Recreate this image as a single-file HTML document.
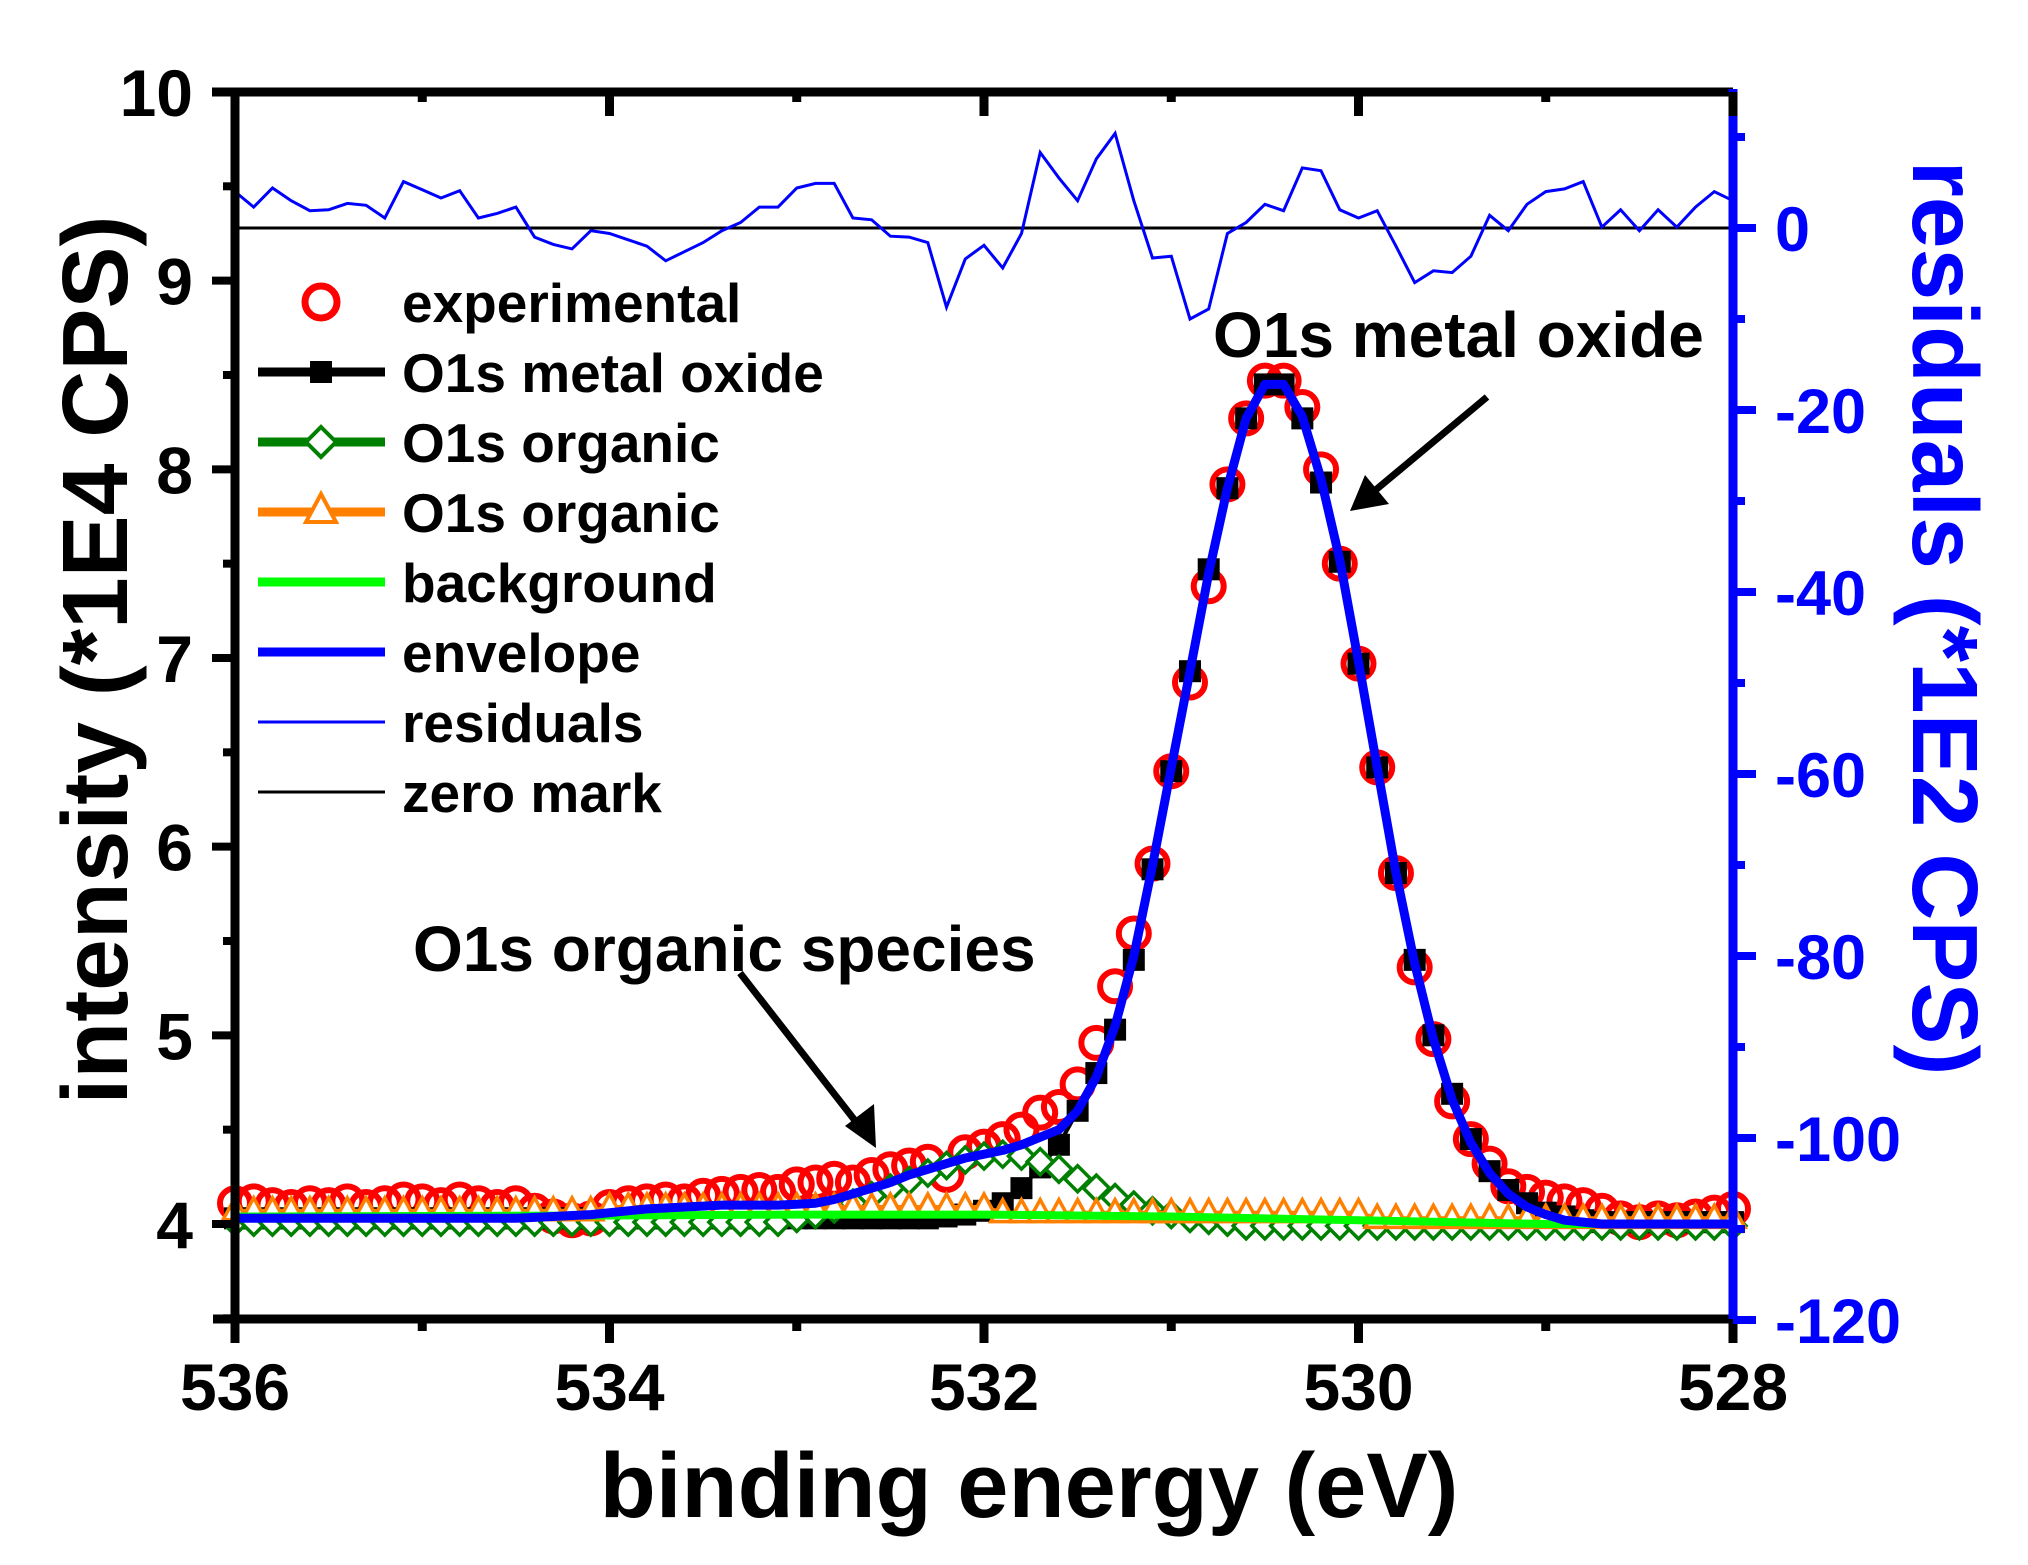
<!DOCTYPE html>
<html><head><meta charset="utf-8">
<style>
html,body{margin:0;padding:0;background:#fff;}
svg{display:block;font-family:"Liberation Sans",Arial,sans-serif;font-weight:bold;}
</style></head>
<body>
<svg id="chart" width="2028" height="1565" viewBox="0 0 2028 1565" xmlns="http://www.w3.org/2000/svg">
<g id="plot"></g>
<g id="axes"></g>
<g id="legend"></g>
<text x="1029" y="1517" font-size="92" text-anchor="middle">binding energy (eV)</text>
<text transform="translate(127,660) rotate(-90)" font-size="93" text-anchor="middle">intensity (*1E4 CPS)</text>
<text transform="translate(1913,618) rotate(90)" font-size="93" fill="#0000ff" text-anchor="middle">residuals (*1E2 CPS)</text>
<text x="1213" y="357" font-size="64">O1s metal oxide</text>
<text x="413" y="971" font-size="64">O1s organic species</text>
<g>
<line x1="1487" y1="397" x2="1372" y2="493" stroke="#000" stroke-width="7"/>
<polygon points="1350,511 1365,475 1389,504" fill="#000"/>
</g>
<g>
<line x1="740" y1="973" x2="860" y2="1127" stroke="#000" stroke-width="7"/>
<polygon points="876,1148 845,1126 874,1104" fill="#000"/>
</g>
</svg>
<script>
const energies=[536.0,535.9,535.8,535.7,535.6,535.5,535.4,535.3,535.2,535.1,535.0,534.9,534.8,534.7,534.6,534.5,534.4,534.3,534.2,534.1,534.0,533.9,533.8,533.7,533.6,533.5,533.4,533.3,533.2,533.1,533.0,532.9,532.8,532.7,532.6,532.5,532.4,532.3,532.2,532.1,532.0,531.9,531.8,531.7,531.6,531.5,531.4,531.3,531.2,531.1,531.0,530.9,530.8,530.7,530.6,530.5,530.4,530.3,530.2,530.1,530.0,529.9,529.8,529.7,529.6,529.5,529.4,529.3,529.2,529.1,529.0,528.9,528.8,528.7,528.6,528.5,528.4,528.3,528.2,528.1,528.0];
const experimental=[4.11,4.12,4.10,4.09,4.11,4.10,4.12,4.09,4.11,4.13,4.12,4.10,4.13,4.11,4.09,4.11,4.07,4.04,4.02,4.03,4.09,4.11,4.12,4.13,4.12,4.15,4.16,4.17,4.18,4.17,4.21,4.22,4.24,4.22,4.26,4.29,4.31,4.33,4.26,4.38,4.41,4.45,4.50,4.59,4.62,4.74,4.96,5.26,5.54,5.91,6.40,6.87,7.38,7.92,8.27,8.47,8.47,8.33,8.00,7.50,6.97,6.42,5.86,5.36,4.98,4.65,4.45,4.32,4.20,4.17,4.14,4.12,4.10,4.07,4.03,4.01,4.03,4.02,4.04,4.06,4.08];
const metalOxide=[4.03,4.03,4.03,4.03,4.03,4.03,4.03,4.03,4.03,4.03,4.03,4.03,4.03,4.03,4.03,4.03,4.03,4.03,4.03,4.03,4.03,4.03,4.03,4.03,4.03,4.03,4.03,4.03,4.03,4.03,4.03,4.03,4.03,4.03,4.03,4.03,4.03,4.03,4.04,4.05,4.07,4.11,4.19,4.30,4.42,4.60,4.80,5.03,5.40,5.88,6.40,6.93,7.47,7.90,8.27,8.45,8.45,8.27,7.93,7.51,6.97,6.42,5.86,5.40,5.00,4.69,4.45,4.28,4.18,4.11,4.06,4.04,4.02,4.01,4.01,4.01,4.01,4.01,4.01,4.01,4.01];
const organic1=[4.01,4.01,4.01,4.01,4.01,4.01,4.01,4.01,4.01,4.01,4.01,4.01,4.01,4.01,4.01,4.01,4.01,4.01,4.01,4.01,4.01,4.01,4.01,4.01,4.01,4.01,4.01,4.01,4.01,4.01,4.03,4.05,4.08,4.11,4.15,4.19,4.23,4.27,4.31,4.34,4.36,4.37,4.36,4.33,4.29,4.24,4.19,4.14,4.10,4.07,4.05,4.03,4.02,4.01,3.99,3.99,3.99,3.99,3.99,3.99,3.99,3.99,3.99,3.99,3.99,3.99,3.99,3.99,3.99,3.99,3.99,3.99,3.99,3.99,3.99,3.99,3.99,3.99,3.99,3.99,3.99];
const organic2=[4.07,4.07,4.07,4.07,4.07,4.07,4.07,4.07,4.07,4.07,4.07,4.07,4.07,4.07,4.07,4.07,4.07,4.07,4.07,4.07,4.09,4.09,4.09,4.09,4.09,4.09,4.09,4.09,4.09,4.09,4.09,4.09,4.09,4.09,4.09,4.09,4.09,4.09,4.09,4.09,4.09,4.06,4.06,4.06,4.06,4.06,4.06,4.06,4.06,4.06,4.06,4.06,4.06,4.06,4.06,4.06,4.06,4.06,4.06,4.06,4.06,4.03,4.03,4.03,4.03,4.03,4.03,4.03,4.03,4.03,4.03,4.03,4.03,4.03,4.03,4.03,4.03,4.03,4.03,4.03,4.03];
const envelope=[4.03,4.03,4.03,4.03,4.03,4.03,4.03,4.03,4.03,4.03,4.03,4.03,4.03,4.03,4.03,4.03,4.035,4.04,4.045,4.05,4.06,4.07,4.08,4.085,4.09,4.095,4.10,4.10,4.10,4.10,4.105,4.11,4.13,4.16,4.19,4.22,4.26,4.29,4.32,4.35,4.37,4.39,4.42,4.46,4.50,4.60,4.78,5.05,5.42,5.90,6.42,6.93,7.45,7.90,8.27,8.45,8.45,8.28,7.95,7.52,6.98,6.42,5.86,5.38,4.98,4.66,4.43,4.27,4.16,4.09,4.05,4.02,4.01,4.00,4.00,4.00,4.00,4.00,4.00,4.00,4.00];
const bgEnergies=[536,534,533,532,531,530,529,528];
const background=[4.04,4.045,4.05,4.05,4.04,4.02,4.00,4.00];
const residuals=[4,2.3,4.4,3,1.9,2,2.7,2.5,1.1,5.1,4.2,3.3,4.1,1.1,1.6,2.3,-1,-1.8,-2.3,-0.3,-0.6,-1.3,-2,-3.6,-2.6,-1.6,-0.3,0.6,2.3,2.3,4.4,4.9,4.9,1.1,0.9,-0.9,-1,-1.6,-8.7,-3.4,-1.9,-4.4,-0.6,8.3,5.5,3,7.6,10.4,3,-3.3,-3.1,-10,-8.9,-0.6,0.6,2.6,1.9,6.6,6.3,2,1.1,1.9,-2,-6,-4.7,-4.9,-3.1,1.4,-0.3,2.6,4,4.3,5.1,0.1,2,-0.3,2,0.1,2.3,4,3];
const xTicks=[536,534,532,530,528];
const yTicks=[4,5,6,7,8,9,10];
const y2Ticks=[0,-20,-40,-60,-80,-100,-120];

const NS="http://www.w3.org/2000/svg";
const L=235,R=1733,T=92,B=1319;
const X=e=>L+(536-e)/8*(R-L);
const Y=v=>1224-(v-4)*188.67;
const Y2=v=>228-v*9.1;
function mk(tag,parent,attrs){const el=document.createElementNS(NS,tag);for(const k in attrs)el.setAttribute(k,attrs[k]);parent.appendChild(el);return el;}
const plot=document.getElementById('plot'),axes=document.getElementById('axes'),leg=document.getElementById('legend');
function pts(xs,ys,fy){return xs.map((e,i)=>X(e).toFixed(1)+','+fy(ys[i]).toFixed(1)).join(' ');}

let g=mk('g',plot,{});


energies.forEach((e,i)=>{const c=mk('circle',g,{cx:X(e),cy:Y(experimental[i]),r:15,fill:'none',stroke:'#ff0000','stroke-width':6});

});
g=mk('g',plot,{});


mk('polyline',g,{points:pts(energies,metalOxide,Y),fill:'none',stroke:'#000','stroke-width':4});
energies.forEach((e,i)=>{const s=mk('rect',g,{x:X(e)-11,y:Y(metalOxide[i])-11,width:22,height:22,fill:'#000'});

});
g=mk('g',plot,{});


mk('polyline',g,{points:pts(energies,organic1,Y),fill:'none',stroke:'#008000','stroke-width':4});
energies.forEach((e,i)=>{const x=X(e),y=Y(organic1[i]);const d=mk('polygon',g,{points:`${x},${y-13} ${x+13},${y} ${x},${y+13} ${x-13},${y}`,fill:'#fff',stroke:'#008000','stroke-width':3.5});

});
g=mk('g',plot,{});


mk('polyline',g,{points:pts(energies,organic2,Y),fill:'none',stroke:'#ff8000','stroke-width':4});
energies.forEach((e,i)=>{const x=X(e),y=Y(organic2[i]);const t=mk('polygon',g,{points:`${x},${y-13} ${x+12},${y+9} ${x-12},${y+9}`,fill:'#fff',stroke:'#ff8000','stroke-width':3.5});

});
let bl=mk('polyline',plot,{points:pts(bgEnergies,background,Y),fill:'none',stroke:'#00ff00','stroke-width':8});


let en=mk('polyline',plot,{points:pts(energies,envelope,Y),fill:'none',stroke:'#0000ff','stroke-width':9,'stroke-linejoin':'round'});


let zl=mk('line',plot,{x1:L,x2:R,y1:Y2(0),y2:Y2(0),stroke:'#000','stroke-width':3});


let rl=mk('polyline',plot,{points:pts(energies,residuals,Y2),fill:'none',stroke:'#0000ff','stroke-width':3});



let a=mk('line',axes,{x1:L,x2:L,y1:T-4,y2:B+4,stroke:'#000','stroke-width':9});


a=mk('line',axes,{x1:L-22,x2:R,y1:B,y2:B,stroke:'#000','stroke-width':9});


a=mk('line',axes,{x1:212,x2:R,y1:T,y2:T,stroke:'#000','stroke-width':9});


a=mk('line',axes,{x1:R,x2:R,y1:T-3,y2:B+4,stroke:'#0000ff','stroke-width':9});


for(let e=536;e>=528;e--){const major=xTicks.includes(e);
mk('line',axes,{x1:X(e),x2:X(e),y1:B,y2:B+(major?24:12),stroke:'#000','stroke-width':9});
if(e<536)mk('line',axes,{x1:X(e),x2:X(e),y1:T,y2:T+(major?24:10),stroke:'#000','stroke-width':9});}
xTicks.forEach(e=>{const t=mk('text',axes,{x:X(e),y:1410,'font-size':66,'text-anchor':'middle'});t.textContent=e;

});
for(let v=3.5;v<=10;v+=0.5){const major=Number.isInteger(v);mk('line',axes,{x1:L-(major?23:12),x2:L,y1:Y(v),y2:Y(v),stroke:'#000','stroke-width':8});}
yTicks.forEach(v=>{const t=mk('text',axes,{x:193,y:Y(v)+24,'font-size':66,'text-anchor':'end'});t.textContent=v;

});
for(let v=10;v>=-120;v-=10){const major=(v%20===0);mk('line',axes,{x1:R,x2:R+(major?23:12),y1:Y2(v),y2:Y2(v),stroke:'#0000ff','stroke-width':8});}
y2Ticks.forEach(v=>{const t=mk('text',axes,{x:1775,y:Y2(v)+23,'font-size':63,fill:'#0000ff'});t.textContent=v;

});

const legItems=[['experimental','circle','#ff0000',0],['O1s metal oxide','square','#000',9],['O1s organic','diamond','#008000',9],['O1s organic','triangle','#ff8000',9],['background','none','#00ff00',9],['envelope','none','#0000ff',9],['residuals','none','#0000ff',3],['zero mark','none','#000',3]];
legItems.forEach((it,i)=>{const y=302+i*70;const gg=mk('g',leg,{});


if(it[3]>0){mk('line',gg,{x1:258,x2:385,y1:y,y2:y,stroke:it[2],'stroke-width':it[3]});}
if(it[1]==='circle')mk('circle',gg,{cx:321,cy:y,r:16,fill:'none',stroke:it[2],'stroke-width':7});
if(it[1]==='square')mk('rect',gg,{x:310,y:y-11,width:22,height:22,fill:'#000'});
if(it[1]==='diamond')mk('polygon',gg,{points:`321,${y-15} 336,${y} 321,${y+15} 306,${y}`,fill:'#fff',stroke:it[2],'stroke-width':4});
if(it[1]==='triangle')mk('polygon',gg,{points:`321,${y-18} 336,${y+10} 306,${y+10}`,fill:'#fff',stroke:it[2],'stroke-width':4});
const t=mk('text',gg,{x:402,y:y+20,'font-size':55});t.textContent=it[0];});
</script>
</body></html>
